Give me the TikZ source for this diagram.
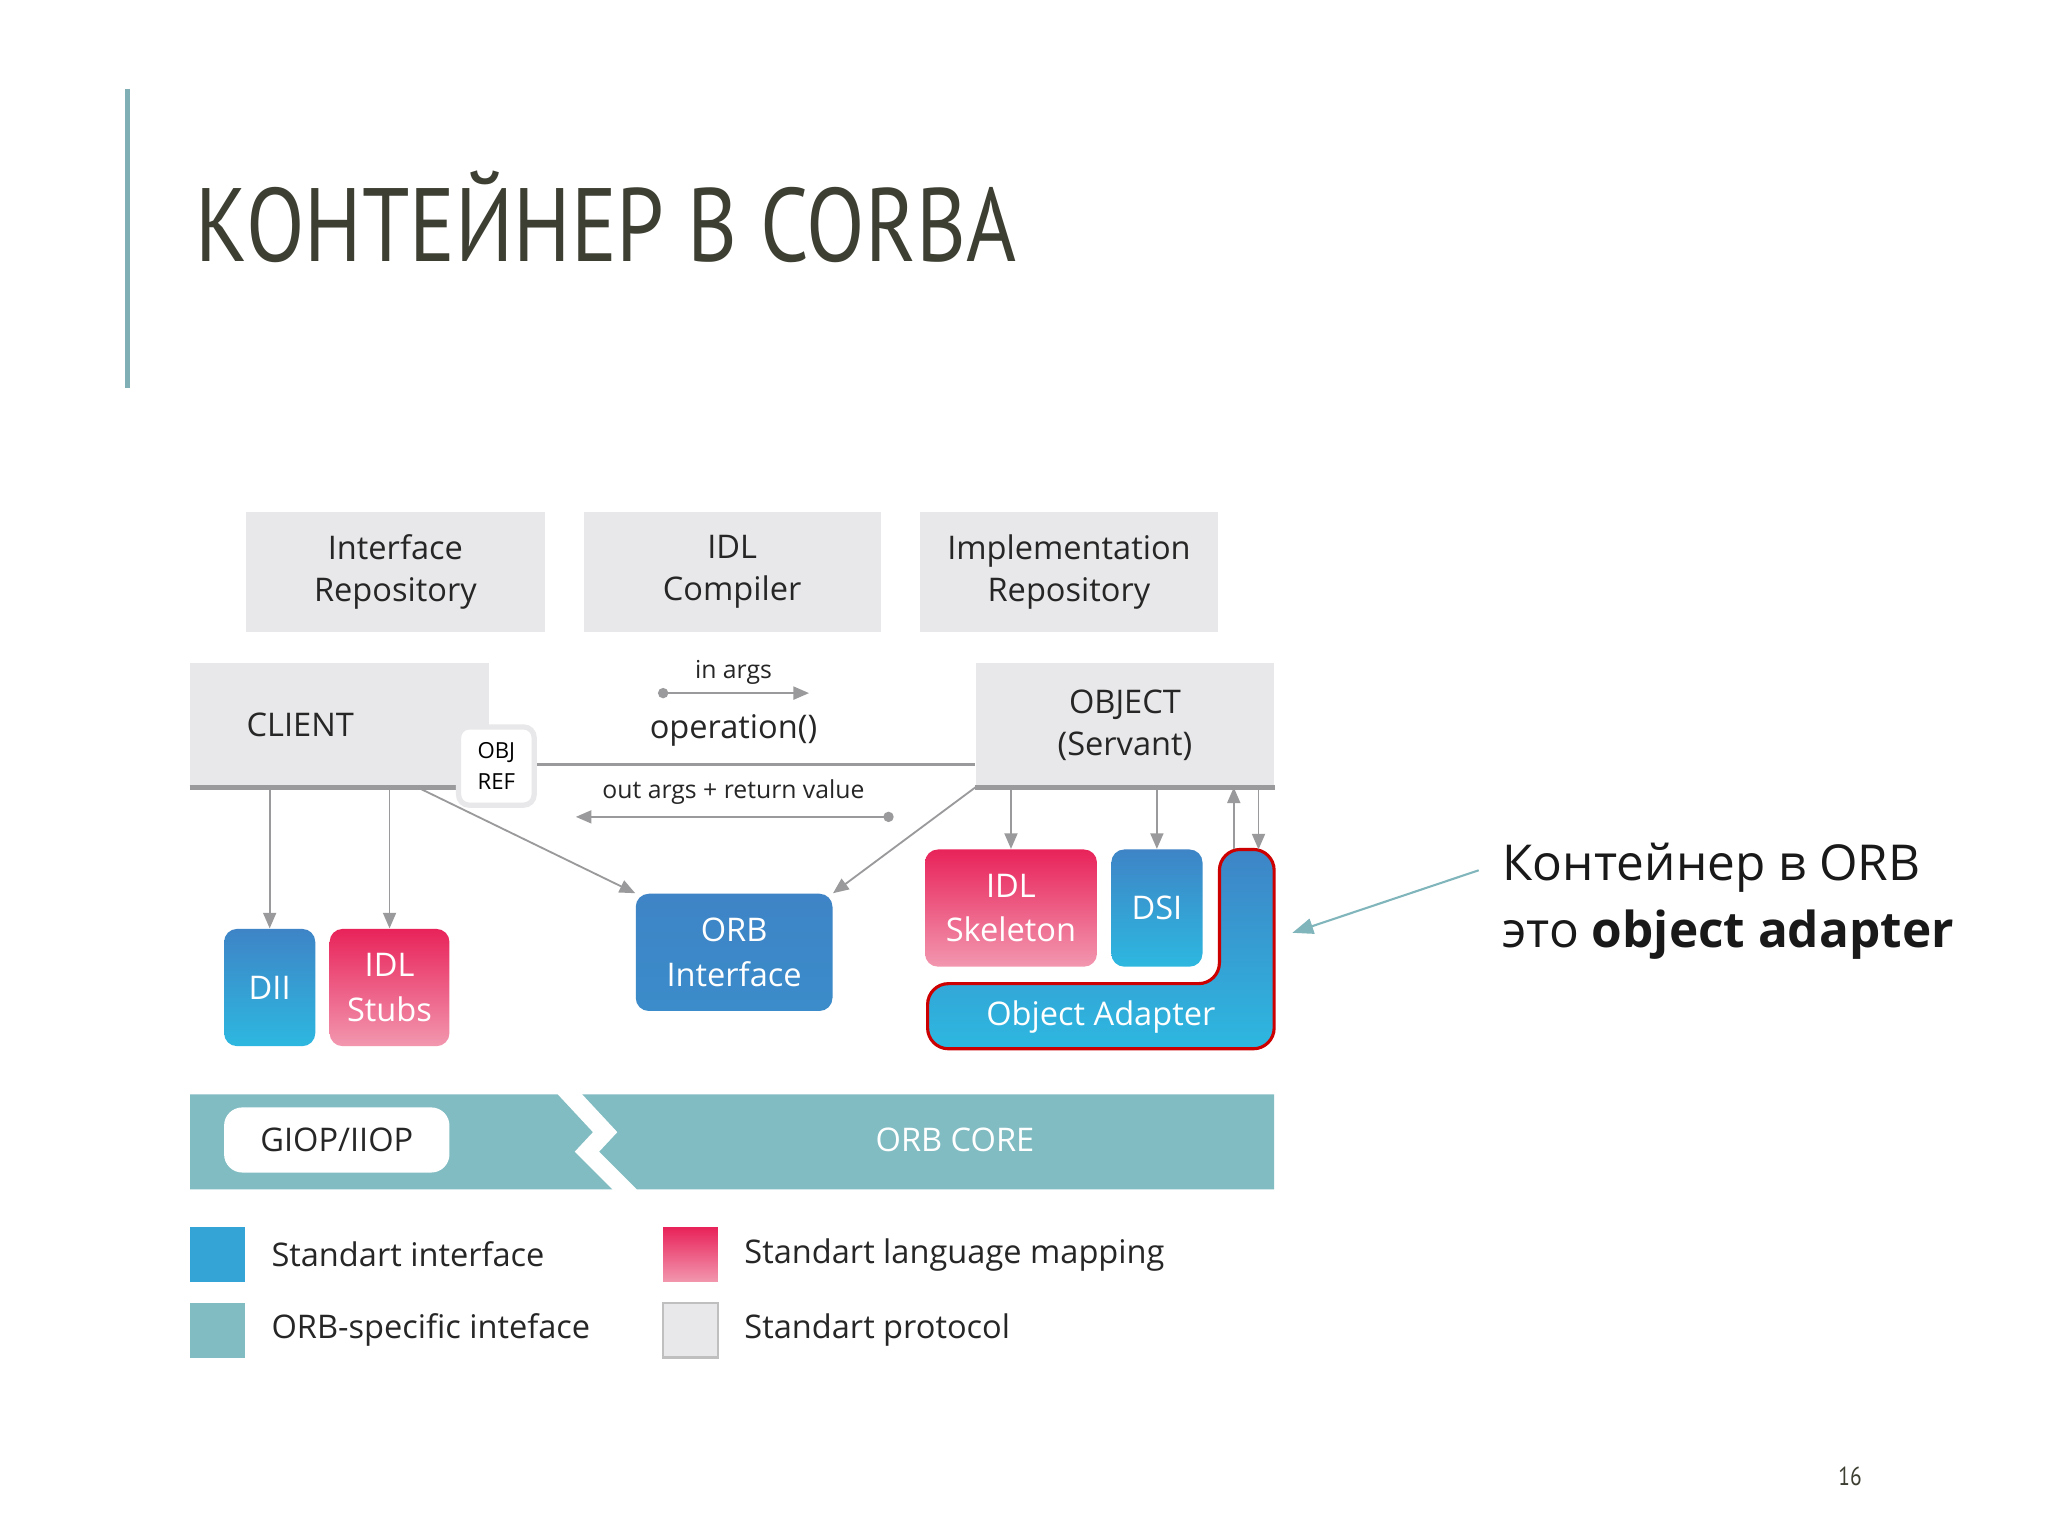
\documentclass[tikz,border=0pt]{standalone}
\usepackage{fontspec}
\setmainfont{Open Sans}
\newfontfamily\titlefont[FakeStretch=0.82]{PT Sans}
\usetikzlibrary{arrows.meta}
\definecolor{gbox}{HTML}{E8E8EA}
\definecolor{gline}{HTML}{9A9A9C}
\definecolor{teal}{HTML}{80BCC2}
\definecolor{bluetop}{HTML}{3E84C6}
\definecolor{bluebot}{HTML}{2DB8E0}
\definecolor{pinktop}{HTML}{E8235A}
\definecolor{pinkbot}{HTML}{F297AF}
\definecolor{ttl}{HTML}{3E3F33}
\newcommand\bx[7]{\node[#6,minimum width={(#4-#2)*0.5pt},minimum height={(#5-#3)*0.5pt},inner sep=0pt,align=center] (#1) at ({(#2+#4)/2},{(#3+#5)/2}) {#7};}
\tikzset{
 graybox/.style={fill=gbox,font=\fontsize{12.5}{16}\selectfont,text=black!85},
 bluebox/.style={rounded corners=5pt,top color=bluetop,bottom color=bluebot,text=white,font=\fontsize{12.5}{17}\selectfont},
 pinkbox/.style={rounded corners=5pt,top color=pinktop,bottom color=pinkbot,text=white,font=\fontsize{12.5}{17}\selectfont},
 arr/.style={draw=gline,line width=0.7pt,-{Triangle[length=6pt,width=5pt]}},
 thickl/.style={draw=gline,line width=2pt},
 lbl/.style={font=\fontsize{9.5}{11}\selectfont,text=black!85,inner sep=1pt},
 leg/.style={font=\fontsize{12.5}{15}\selectfont,text=black!85,anchor=west,inner sep=0pt}
}
\begin{document}
\begin{tikzpicture}[x=0.5pt,y=-0.5pt]
\useasboundingbox[fill=white] (0,0) rectangle (1572,1179);
\coordinate (vl1) at (98,68); \coordinate (vl2) at (98,298);
\draw[color=teal!80!gray,line width=2pt] (vl1) -- (vl2);
\node[anchor=base west,inner sep=0pt,text=ttl,font=\titlefont\fontsize{40}{44}\selectfont] (title) at (150,201) {КОНТЕЙНЕР В CORBA};
% top boxes
\bx{ir}{189}{393}{418}{485}{graybox}{Interface\\Repository}
\bx{idlc}{448}{393}{676}{485}{graybox}{IDL\\Compiler}
\bx{impl}{706}{393}{935}{485}{graybox}{Implementation\\Repository}
\bx{client}{146}{509}{375}{604}{graybox}{\hspace*{-30pt}CLIENT}
\bx{object}{749}{509}{978}{604}{graybox}{OBJECT\\(Servant)}
\draw[thickl] (client.south west) -- ++(205,0) coordinate (cl2);
\draw[thickl] (object.south west) -- (object.south east);
\draw[gline,line width=1pt] (410,587) coordinate (opl) -- (opl -| object.west);
\bx{objref}{352}{558}{410}{618}{fill=white,draw=gbox,line width=2pt,rounded corners=4pt,font=\fontsize{8.5}{12}\selectfont}{OBJ\\REF}
\node[lbl] (inargs) at (563,516) {in args};
\coordinate (ia1) at (509,532); \coordinate (ia2) at (621,532);
\fill[gline] (ia1) circle (4);
\draw[arr] (ia1) -- (ia2);
\node[font=\fontsize{12.5}{15}\selectfont,text=black!85] (op) at (563,561) {operation()};
\node[lbl] (outargs) at (563,608) {out args + return value};
\coordinate (oa1) at (682,627); \coordinate (oa2) at (442,627);
\fill[gline] (oa1) circle (4);
\draw[arr] (oa1) -- (oa2);
% lower boxes
\bx{dii}{172}{713}{242}{803}{bluebox}{DII}
\bx{stubs}{253}{713}{345}{803}{pinkbox}{IDL\\Stubs}
\bx{orbi}{488}{686}{639}{776}{bluebox,top color=bluetop,bottom color=bluetop!85!bluebot}{ORB\\Interface}
\bx{skel}{710}{652}{842}{742}{pinkbox}{IDL\\Skeleton}
\bx{dsi}{853}{652}{923}{742}{bluebox}{DSI}
\draw[arr] (dii.north |- client.south) -- (dii.north);
\draw[arr] (stubs.north |- client.south) -- (stubs.north);
\draw[arr] (cl2) ++(-30,0) -- (orbi.north west);
\draw[arr] (object.south west) -- (orbi.north east);
\draw[arr] (skel.north |- object.south) -- (skel.north);
\draw[arr] (dsi.north |- object.south) -- (dsi.north);
% object adapter
\shade[top color=bluetop,bottom color=bluebot,rounded corners=8pt] (936,652) -- (978,652) -- (978,805) -- (712,805) -- (712,755) -- (936,755) -- cycle;
\draw[draw=red!80!black,line width=1.2pt,rounded corners=8pt] (936,652) -- (978,652) -- (978,805) -- (712,805) -- (712,755) -- (936,755) -- cycle;
\node[text=white,font=\fontsize{12.5}{15}\selectfont] (oa) at (845,781) {Object Adapter};
\coordinate (oat1) at (947,652); \coordinate (oat2) at (966,652);
\draw[arr] (oat1) -- (oat1 |- object.south);
\draw[arr] (oat2 |- object.south) -- (oat2);
% ORB core
\fill[teal] (146,840) -- (428,840) -- (455,869) -- (441,884) -- (470,913) -- (146,913) -- cycle;
\fill[teal] (447,840) -- (978,840) -- (978,913) -- (489,913) -- (460,884) -- (474,869) -- cycle;
\bx{giop}{172}{850}{345}{900}{fill=white,rounded corners=7pt,font=\fontsize{12.5}{15}\selectfont,text=black!85}{GIOP/IIOP}
\node[text=white,font=\fontsize{12.5}{15}\selectfont] (core) at (733,875) {ORB CORE};
% legend
\bx{l1}{146}{942}{188}{984}{fill=bluebot!60!bluetop}{}
\bx{l2}{146}{1000}{188}{1042}{fill=teal}{}
\bx{l3}{509}{942}{551}{984}{top color=pinktop,bottom color=pinkbot}{}
\bx{l4}{509}{1000}{551}{1042}{fill=gbox,draw=black!25,line width=1pt}{}
\node[leg] (t1) at (208,963) {Standart interface};
\node[leg] (t2) at (208,1021) {ORB-specific inteface};
\node[leg] (t3) at (571,963) {Standart language mapping};
\node[leg] (t4) at (571,1021) {Standart protocol};
% right note
\node[anchor=base west,inner sep=0pt,font=\fontsize{19}{22}\selectfont,text=black!90] (n1) at (1153,676) {Контейнер в ORB};
\node[anchor=base west,inner sep=0pt,font=\fontsize{19}{22}\selectfont,text=black!90] (n2) at (1153,727) {это \textbf{object adapter}};
\coordinate (na) at (1135,668); \coordinate (nb) at (992,716);
\draw[teal!90!gray,line width=0.8pt,-{Triangle[length=8pt,width=6pt]}] (na) -- (nb);
\node[font=\titlefont\fontsize{10}{12}\selectfont,text=ttl] (pg) at (1420,1133) {16};
\end{tikzpicture}
\end{document}
